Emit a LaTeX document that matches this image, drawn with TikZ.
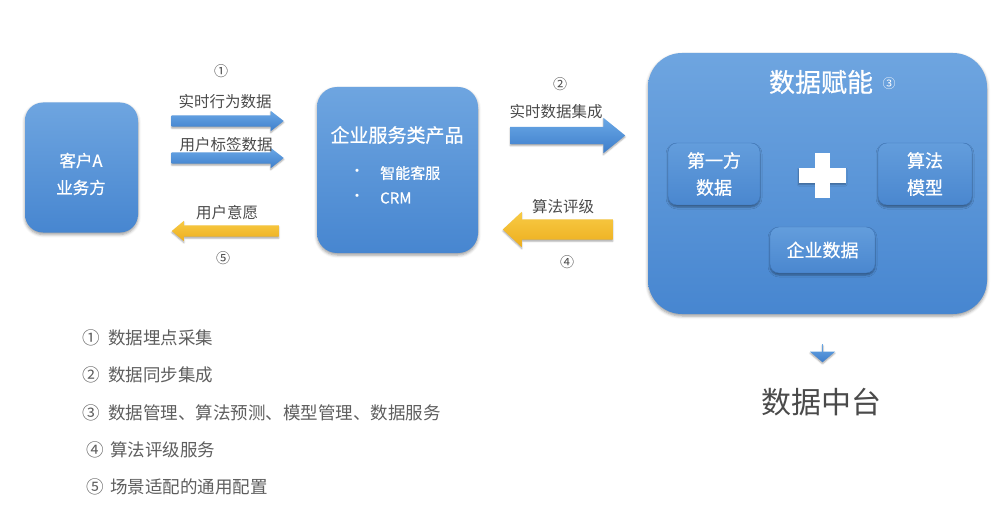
\documentclass[tikz,border=0pt]{standalone}
\usepackage{fontspec}
\setmainfont{Noto Sans CJK SC}
\newfontfamily\medfont[FakeBold=0.7]{Noto Sans CJK SC}
\usetikzlibrary{shapes.arrows,shadows.blur}

\definecolor{boxtop}{HTML}{6EA5E0}
\definecolor{boxbot}{HTML}{4786D0}
\definecolor{subtop}{HTML}{639DDC}
\definecolor{subbot}{HTML}{4A87CF}
\definecolor{subedge}{HTML}{3F76B8}
\definecolor{arrtop}{HTML}{6AA8E6}
\definecolor{arrbot}{HTML}{3E7ECB}
\definecolor{yeltop}{HTML}{F8CB45}
\definecolor{yelbot}{HTML}{EDAE1E}
\definecolor{lblgray}{HTML}{4A4A4A}
\definecolor{leggray}{HTML}{5E5E5E}

\begin{document}
\begin{tikzpicture}[x=1pt, y=-1pt,
  card/.style={draw=none, top color=boxtop, bottom color=boxbot,
    blur shadow={shadow xshift=0pt, shadow yshift=-2pt, shadow blur radius=3pt, shadow opacity=40}},
  subcard/.style={draw=subedge, line width=0.4pt, rounded corners=9pt, top color=subtop, bottom color=subbot,
    align=center, text=white, font=\medfont\fontsize{18}{27}\selectfont,
    blur shadow={shadow xshift=0pt, shadow yshift=-2pt, shadow blur radius=2pt, shadow opacity=40}},
  blockarr/.style={single arrow, draw=none, inner xsep=0pt, anchor=tail, top color=arrtop, bottom color=arrbot,
    blur shadow={shadow xshift=0pt, shadow yshift=-1.5pt, shadow blur radius=1.5pt, shadow opacity=35}},
  yelarr/.style={blockarr, top color=yeltop, bottom color=yelbot, shape border rotate=180},
  wtxt/.style={text=white, inner sep=0pt},
  lbl/.style={text=lblgray, inner sep=0pt, font=\fontsize{15.5}{18}\selectfont},
  num/.style={text=lblgray, inner sep=0pt, font=\fontsize{14}{16}\selectfont},
  legend/.style={text=leggray, inner sep=0pt, anchor=west, font=\fontsize{17.5}{20}\selectfont}
]
\useasboundingbox (0,0) rectangle (1001,505);

% ── Boxes ────────────────────────────────────────────────────────────────────

\node[card, rounded corners=18pt, minimum width=113pt, minimum height=130pt] (custA) at (81.5,167.5) {};
\node[wtxt, align=center, font=\medfont\fontsize{16.5}{27}\selectfont] (custtxt) at (81,174) {客户A\\业务方};

\node[card, rounded corners=20pt, minimum width=161pt, minimum height=166pt] (product) at (397.5,170) {};
\node[wtxt, font=\medfont\fontsize{19}{22}\selectfont] (prodtitle) at (397,135) {企业服务类产品};
\node[wtxt, font=\fontsize{15}{17}\selectfont] (dotone) at (357,173) {•};
\node[wtxt, anchor=west, font=\medfont\fontsize{15}{17}\selectfont] (itemone) at (380,173) {智能客服};
\node[wtxt, font=\fontsize{15}{17}\selectfont] (dottwo) at (357,198) {•};
\node[wtxt, anchor=west, font=\medfont\fontsize{15}{17}\selectfont] (itemtwo) at (380,198) {CRM};

\node[card, rounded corners=34pt, minimum width=339pt, minimum height=261pt] (enable) at (817.5,183.5) {};
\node[wtxt, font=\medfont\fontsize{26}{30}\selectfont] (enabletitle) at (821,82) {数据赋能};
\node[wtxt, font=\fontsize{13}{15}\selectfont] (circthree) at (889,84) {③};

\node[subcard, minimum width=92pt, minimum height=62pt] (firstparty) at (714,174) {第一方\\数据};
\node[subcard, minimum width=94pt, minimum height=62pt] (algomodel) at (925,174) {算法\\模型};
\node[subcard, minimum width=105pt, minimum height=46pt] (entdata) at (822.5,250) {企业数据};

% plus sign
\node[fill=white, inner sep=0pt, minimum width=47pt, minimum height=15pt,
  blur shadow={shadow xshift=0pt, shadow yshift=-1.5pt, shadow blur radius=1.5pt, shadow opacity=30}] (plush) at (822,175.5) {};
\node[fill=white, inner sep=0pt, minimum width=15pt, minimum height=45pt] (plusv) at (822,175.5) {};

% ── Block arrows ─────────────────────────────────────────────────────────────

\node[blockarr, minimum height=112pt, minimum width=20pt, inner ysep=5.5pt, single arrow head extend=4.5pt,
  single arrow tip angle=76] (arrrt) at (171.5,121) {};
\node[blockarr, minimum height=112pt, minimum width=20pt, inner ysep=5.5pt, single arrow head extend=4.5pt,
  single arrow tip angle=76] (arrtag) at (171.5,158) {};
\node[yelarr, minimum height=107pt, minimum width=20pt, inner ysep=5.5pt, single arrow head extend=4.5pt,
  single arrow tip angle=80] (arrwish) at (279,231) {};

\node[blockarr, minimum height=115pt, minimum width=35pt, inner ysep=8.5pt, single arrow head extend=9pt,
  single arrow tip angle=78] (arrint) at (510,135.5) {};
\node[yelarr, minimum height=110pt, minimum width=35pt, inner ysep=10pt, single arrow head extend=7.5pt,
  single arrow tip angle=86] (arralg) at (613,229.5) {};

\node[blockarr, shape border rotate=270, minimum height=18pt, minimum width=25pt, inner ysep=7.5pt,
  single arrow head extend=5pt, single arrow tip angle=100] (arrdown) at (822.5,344) {};

% ── Labels ───────────────────────────────────────────────────────────────────

\node[num] (numone)  at (221,71)  {①};
\node[lbl] (lblrt)   at (225,102) {实时行为数据};
\node[lbl] (lbltag)  at (226,145) {用户标签数据};
\node[lbl] (lblwish) at (227,213) {用户意愿};
\node[num] (numfive) at (223,258) {⑤};

\node[num] (numtwo)  at (560,84)  {②};
\node[lbl] (lblint)  at (556,112) {实时数据集成};
\node[lbl] (lblalg)  at (563,207) {算法评级};
\node[num] (numfour) at (567,262) {④};

\node[text=lblgray, inner sep=0pt, font=\fontsize{30}{34}\selectfont] (platform) at (821,402) {数据中台};

% ── Legend ───────────────────────────────────────────────────────────────────

\foreach \ly/\lx/\tx/\n/\t in {338/82/108/①/数据埋点采集, 375/82/108/②/数据同步集成,
    413/82/108/③/数据管理、算法预测、模型管理、数据服务, 450/86/110/④/算法评级服务,
    487/86/110/⑤/场景适配的通用配置} {
  \node[legend] (legnum\ly) at (\lx,\ly) {\n};
  \node[legend] (legtxt\ly) at (\tx,\ly) {\t};
}

\end{tikzpicture}
\end{document}
